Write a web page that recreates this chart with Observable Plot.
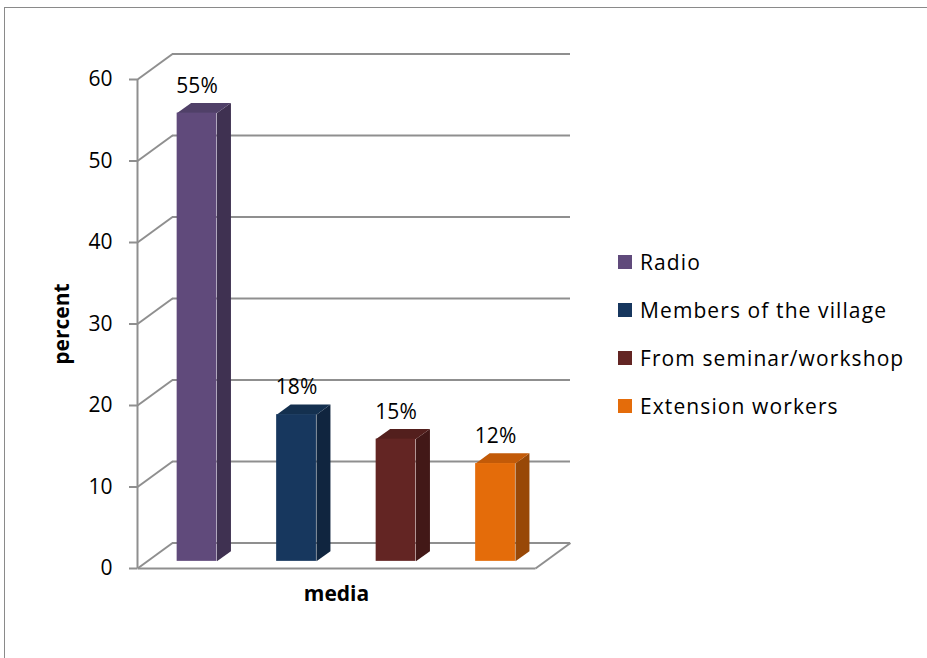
<!DOCTYPE html>
<html><head><meta charset="utf-8">
<script src="https://cdn.jsdelivr.net/npm/d3@7"></script>
<script src="https://cdn.jsdelivr.net/npm/@observablehq/plot@0.6"></script>
<style>
html,body{margin:0;padding:0;background:#fff;overflow:hidden;}
#wrap{position:relative;width:927px;height:658px;overflow:hidden;}
#frame{position:absolute;left:4px;top:7px;width:1000px;height:1000px;border:1px solid #8a8a8a;box-sizing:border-box;}
#chart{position:absolute;left:0;top:0;}
#legend{position:absolute;left:618px;top:238px;font-family:"Open Sans",sans-serif;font-size:21px;letter-spacing:1.1px;color:#000;}
.row{display:flex;align-items:center;height:48px;white-space:nowrap;}
.sw{width:14px;height:14px;margin-right:8px;flex:none;}
</style></head><body>
<div id="wrap"><div id="frame"></div><div id="chart"></div><div id="legend"></div></div>
<script>
const categories = ["Radio", "Members of the village", "From seminar/workshop", "Extension workers"];
const values = [55, 18, 15, 12];
const labels = ["55%", "18%", "15%", "12%"];
const frontColors = ["#604A7B", "#17375E", "#632523", "#E46C0A"];
const topColors = ["#504068", "#14304F", "#531F1D", "#C25A08"];
const sideColors = ["#3F3151", "#10253F", "#421817", "#984807"];
const yTicks = [0, 10, 20, 30, 40, 50, 60];
const xAxisTitle = "media";
const yAxisTitle = "percent";

// layout
const W = 927, H = 658;
const mL = 137, mR = 392, mT = 79, mB = 90;
const n = categories.length;
const xUnit = (W - mL - mR) / n;          // px per slot
const yUnit = (H - mT - mB) / 60;         // px per percent
const DX = 35 / xUnit, DY = 25.5 / yUnit; // wall depth in data units
const t0 = 0.28, t1 = 0.68;               // bar front/back depth fraction
const BW = 0.2;                           // half bar width (slot units)
const grid = "#8f8f8f";
const FONT = "'Open Sans', sans-serif";

const P = (x, y, t) => ({x: x + t * DX, y: y + t * DY});

const bars = categories.map((c, i) => ({
  c, i, v: values[i], label: labels[i],
  xl: i + 0.5 - BW, xr: i + 0.5 + BW, xc: i + 0.5,
  front: frontColors[i]
}));

const polys = [];
bars.forEach(b => {
  [[P(b.xr, 0, t0), P(b.xr, b.v, t0), P(b.xr, b.v, t1), P(b.xr, 0, t1)].map(p => ({...p, id: "s" + b.i, fill: sideColors[b.i]})),
   [P(b.xl, b.v, t0), P(b.xr, b.v, t0), P(b.xr, b.v, t1), P(b.xl, b.v, t1)].map(p => ({...p, id: "t" + b.i, fill: topColors[b.i]}))
  ].forEach(arr => polys.push(...arr));
});

const floorEdges = [
  {x1: 0, y1: 0, x2: n, y2: 0},
  {x1: n, y1: 0, x2: n + DX, y2: DY}
];

const chart = Plot.plot({
  width: W, height: H,
  marginLeft: mL, marginRight: mR, marginTop: mT, marginBottom: mB,
  style: {fontFamily: FONT, fontSize: "20px", color: "#000", background: "transparent"},
  x: {domain: [0, n], axis: null},
  y: {domain: [0, 60], axis: null},
  color: {type: "identity"},
  marks: [
    // left wall diagonals
    Plot.link(yTicks, {x1: 0, y1: d => d, x2: DX, y2: d => d + DY, stroke: grid, strokeWidth: 2}),
    // back wall gridlines
    Plot.ruleY(yTicks, {y: d => d + DY, x1: DX, x2: n + DX, stroke: grid, strokeWidth: 2}),
    // floor
    Plot.link(floorEdges, {x1: "x1", y1: "y1", x2: "x2", y2: "y2", stroke: grid, strokeWidth: 2}),
    // axis line
    Plot.ruleX([0], {y1: 0, y2: 60, stroke: grid, strokeWidth: 2}),
    Plot.axisY({ticks: yTicks, tickSize: 8, tickPadding: 17, stroke: grid, strokeWidth: 2, fill: "#000", fontSize: 21, label: null}),
    // bars: side + top faces
    Plot.line(polys, {x: "x", y: "y", z: "id", fill: "fill", stroke: "none", curve: "linear-closed"}),
    // bars: front faces
    Plot.rect(bars, {x1: d => d.xl + t0 * DX, x2: d => d.xr + t0 * DX, y1: t0 * DY, y2: d => d.v + t0 * DY, fill: "front"}),
    // value labels
    Plot.text(bars, {x: d => d.xc + t0 * DX, y: d => d.v + t0 * DY, text: "label", dy: -27, fontSize: 21, fill: "#000"}),
    // axis titles
    Plot.text([yAxisTitle], {frameAnchor: "left", textAnchor: "middle", dx: -75, rotate: -90, fontWeight: "bold", fontSize: 21, fill: "#000"}),
    Plot.text([xAxisTitle], {frameAnchor: "bottom", dy: 32, fontWeight: "bold", fontSize: 21, fill: "#000"})
  ]
});
document.getElementById("chart").appendChild(chart);

const legend = document.getElementById("legend");
categories.forEach((c, i) => {
  const row = document.createElement("div");
  row.className = "row";
  const sw = document.createElement("span");
  sw.className = "sw";
  sw.style.background = frontColors[i];
  const tx = document.createElement("span");
  tx.textContent = c;
  row.appendChild(sw); row.appendChild(tx);
  legend.appendChild(row);
});
</script>
</body></html>
